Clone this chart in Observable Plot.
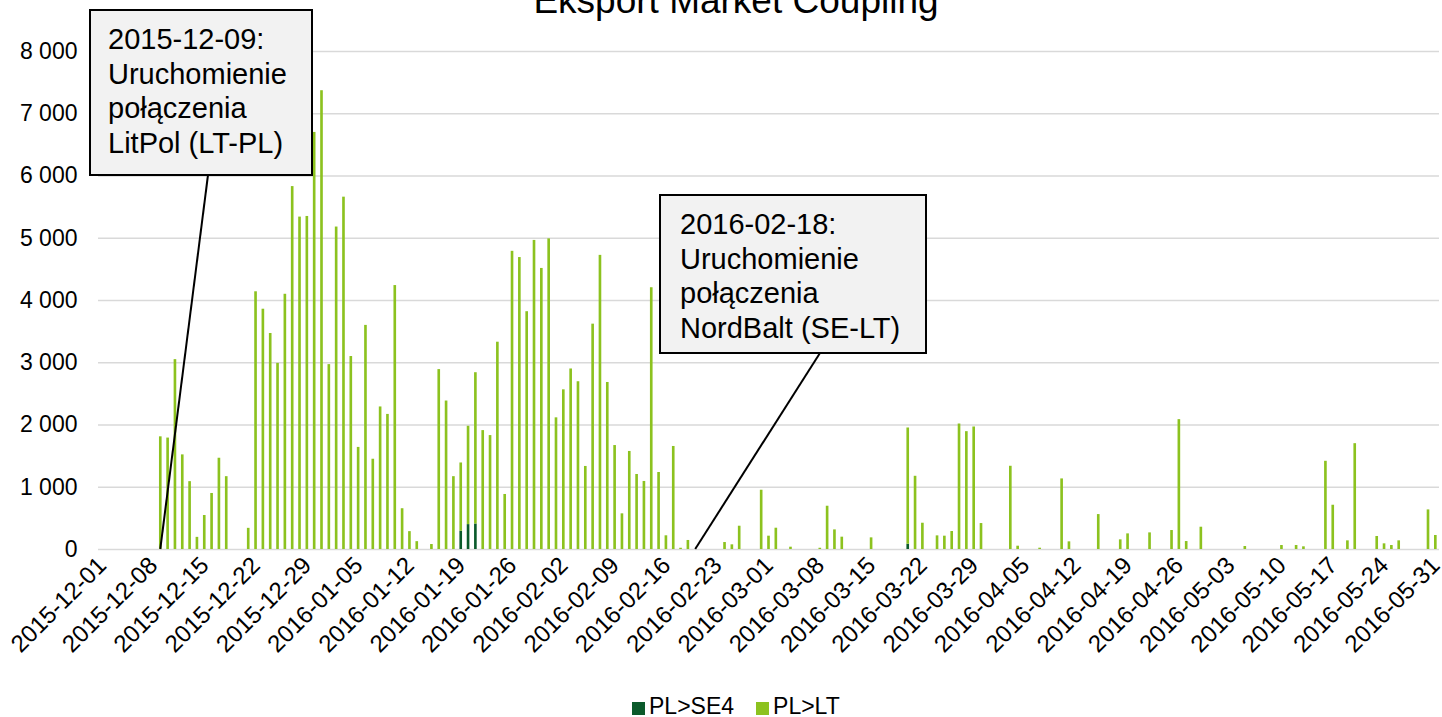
<!DOCTYPE html>
<html>
<head>
<meta charset="utf-8">
<script src="https://cdn.jsdelivr.net/npm/d3@7"></script>
<script src="https://cdn.jsdelivr.net/npm/@observablehq/plot@0.6"></script>
<style>
  body { margin: 0; background: #fff; font-family: "Liberation Sans", Arial, sans-serif; }
  #wrap { position: relative; width: 1442px; height: 717px; overflow: hidden; background: #fff; }
  #title { position: absolute; left: 736px; top: -18px; transform: translateX(-50%); white-space: nowrap;
           font-size: 37px; line-height: 37px; color: #000; }
  #chart { position: absolute; left: 0; top: 0; }
  #legend { position: absolute; top: 695px; left: 632px; font-size: 23px; line-height: 23px; color: #000; white-space: nowrap; }
  #legend .sw { display: inline-block; width: 13px; height: 13px; margin-right: 4px; vertical-align: -1px; }
  #legend .item { display: inline-block; margin-right: 22px; }
</style>
</head>
<body>
<div id="wrap">
  <div id="chart"></div>
  <div id="title">Eksport Market Coupling</div>
  <div id="legend"></div>
</div>
<script>
// ---- data (daily values, MWh) ----
const seriesNames = ["PL>SE4", "PL>LT"];
const seriesColors = ["#0b5a2b", "#8cc21f"];

// PL>LT, one value per day
const ltDec = [0,0,0,0,0,0,0,0,1810,1790,3050,1520,1090,195,546,900,1466,1170,0,0,340,4140,3860,3470,2990,4100,5830,5340,5350,6700,7370];
const ltJan = [2970,5180,5660,3100,1640,3600,1450,2290,2170,4240,655,287,126,0,80,2890,2385,1170,1095,1580,2430,1910,1830,3330,884,4790,4690,3820,4965,4515,4990];
const ltFeb = [2115,2565,2900,2695,1334,3620,4725,2683,1670,573,1575,1205,1093,4205,1237,220,1655,20,145,0,0,0,0,112,75,374,0,0,952];
const ltMar = [214,342,0,37,0,0,0,20,695,315,198,0,0,0,187,0,0,0,0,1867,1176,422,0,219,214,289,2016,1893,1968,417,0];
const ltApr = [0,0,1337,53,0,0,21,0,0,1134,123,0,0,0,561,0,0,155,251,0,0,267,0,0,305,2086,128,0,358,0];
const ltMay = [0,0,0,0,48,0,0,0,0,64,0,64,43,0,0,1417,711,0,139,1700,0,0,209,91,64,139,0,0,0,636,225];

// PL>SE4, only the days with a non-zero value
const se4Dates = ["2016-01-19", "2016-01-20", "2016-01-21", "2016-03-20"];
const se4Values = [295, 400, 410, 85];

const yTicks = [0, 1000, 2000, 3000, 4000, 5000, 6000, 7000, 8000];

const annotations = [
  { pointer: "2015-12-09", lines: ["2015-12-09:", "Uruchomienie", "połączenia", "LitPol (LT-PL)"] },
  { pointer: "2016-02-20", lines: ["2016-02-18:", "Uruchomienie", "połączenia", "NordBalt (SE-LT)"] }
];
// annotation layout (pixels): box left, top, width, height; leader top point; first text baseline
const annotationLayout = [
  { box: [90, 10, 222, 165], lead: [208, 175], text: [108, 49] },
  { box: [660, 195, 266, 158], lead: [820, 353], text: [680, 234] }
];

// ---- build table ----
const fmt = d3.utcFormat("%Y-%m-%d");
const dates = d3.utcDay.range(new Date(Date.UTC(2015, 11, 1)), new Date(Date.UTC(2016, 5, 1))).map(fmt);
const ltValues = [].concat(ltDec, ltJan, ltFeb, ltMar, ltApr, ltMay);
const se4Map = new Map(se4Dates.map((d, i) => [d, se4Values[i]]));
const tickDates = dates.filter((d, i) => i % 7 === 0);

const rows = [];
dates.forEach(d => rows.push({ date: d, series: "PL>SE4", value: se4Map.get(d) || 0 }));
dates.forEach((d, i) => rows.push({ date: d, series: "PL>LT", value: ltValues[i] }));

const fmtY = v => d3.format(",")(v).replace(/,/g, " ");

const chart = Plot.plot({
  width: 1442,
  height: 680,
  marginTop: 51,
  marginBottom: 131,
  marginLeft: 98,
  marginRight: 3,
  style: { fontFamily: "'Liberation Sans', Arial, sans-serif", color: "#000", background: "#fff" },
  x: { type: "band", domain: dates, paddingInner: 0.64, paddingOuter: 0.32, label: null },
  y: { domain: [0, 8000], label: null },
  color: { domain: seriesNames, range: seriesColors },
  marks: [
    Plot.ruleY(yTicks, { stroke: "#d9d9d9", strokeWidth: 1.5 }),
    Plot.barY(rows, { x: "date", y: "value", fill: "series", order: seriesNames }),
    Plot.axisY({ ticks: yTicks, tickSize: 0, tickPadding: 21, tickFormat: fmtY, fontSize: 23, label: null }),
    Plot.axisX({ ticks: tickDates, tickRotate: -45, tickSize: 0, tickPadding: 12, fontSize: 24, label: null })
  ]
});
document.getElementById("chart").appendChild(chart);

// ---- annotations ----
const sx = chart.scale("x"), sy = chart.scale("y");
const svg = d3.select(chart);
annotations.forEach((a, k) => {
  const L = annotationLayout[k];
  const px = sx.apply(a.pointer) + sx.bandwidth / 2;
  const py = sy.apply(0);
  const g = svg.append("g");
  g.append("line").attr("x1", px).attr("y1", py).attr("x2", L.lead[0]).attr("y2", L.lead[1])
    .attr("stroke", "#000").attr("stroke-width", 2);
  g.append("rect").attr("x", L.box[0]).attr("y", L.box[1]).attr("width", L.box[2]).attr("height", L.box[3])
    .attr("fill", "#f2f2f2").attr("stroke", "#000").attr("stroke-width", 2);
  const t = g.append("text").attr("x", L.text[0]).attr("y", L.text[1])
    .attr("font-size", 29).attr("fill", "#000").attr("text-anchor", "start")
    .style("font-family", "'Liberation Sans', Arial, sans-serif");
  a.lines.forEach((s, i) => t.append("tspan").attr("x", L.text[0]).attr("dy", i === 0 ? 0 : 34.5).text(s));
});

// ---- legend ----
const legend = d3.select("#legend");
seriesNames.forEach((n, i) => {
  const it = legend.append("span").attr("class", "item");
  it.append("span").attr("class", "sw").style("background", seriesColors[i]);
  it.append("span").text(n);
});
</script>
</body>
</html>
